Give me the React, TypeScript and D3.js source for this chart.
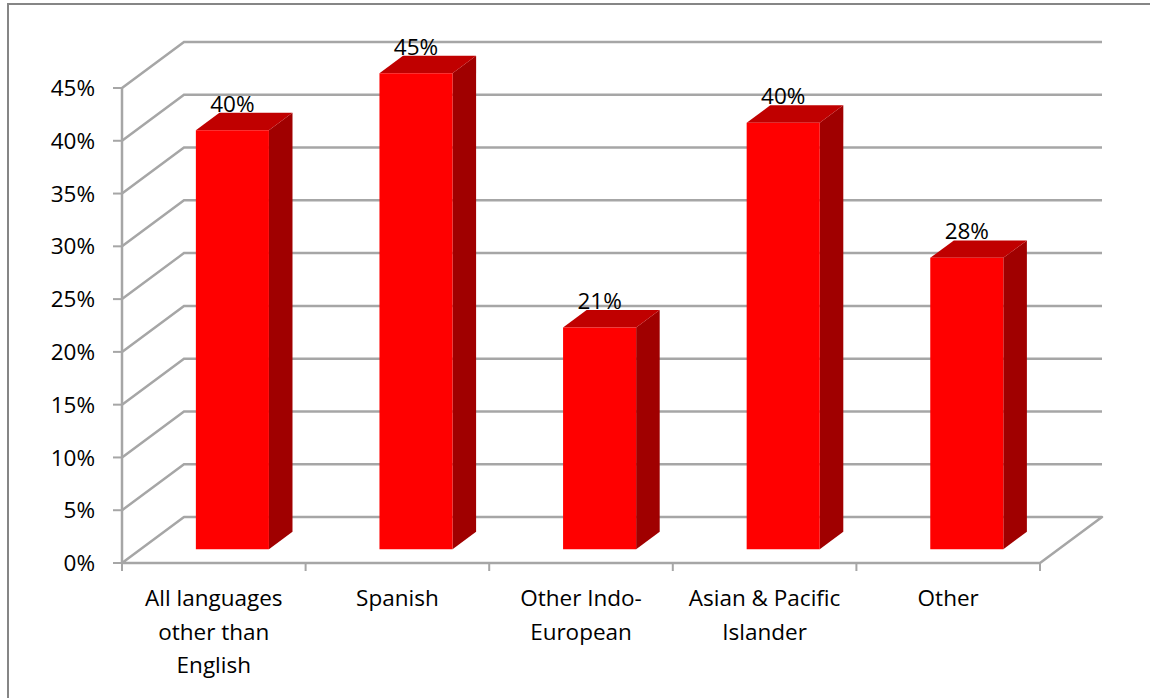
import React from "react";
import * as d3 from "d3";

const categories: string[][] = [
  ["All languages", "other than", "English"],
  ["Spanish"],
  ["Other Indo-", "European"],
  ["Asian & Pacific", "Islander"],
  ["Other"],
];
const values: number[] = [0.397, 0.451, 0.21, 0.404, 0.276];
const yTicks: number[] = [0, 0.05, 0.1, 0.15, 0.2, 0.25, 0.3, 0.35, 0.4, 0.45];

const W = 1150;
const H = 698;
const X0 = 122;
const X1 = 1040;
const Y0 = 563;
const Y1 = 88;
const DX = 62;
const DY = -46;
const BAR_D0 = 0.3;
const BAR_DEPTH = 0.38;
const FONT = "'Open Sans', sans-serif";
const FS = 22.5;
const GRID = "#a6a6a6";

export default function App() {
  const y = d3.scaleLinear().domain([0, 0.45]).range([Y0, Y1]);
  const x = d3
    .scaleBand<number>()
    .domain(categories.map((_, i) => i))
    .range([X0, X1]);
  const pct = d3.format(".0%");
  const p = (px: number, py: number, d: number): [number, number] => [px + DX * d, py + DY * d];
  const poly = (pts: [number, number][]) => pts.map((q) => q.join(",")).join(" ");
  const barW = x.bandwidth() * 0.398;

  return (
    <svg
      width={W}
      height={H}
      style={{ position: "absolute", left: 0, top: 0, background: "#fff" }}
    >
      <rect x={8} y={4} width={W + 20} height={H + 20} fill="#fff" stroke="#868686" strokeWidth={2} />
      {yTicks.map((t, i) => {
        const yy = y(t);
        const [bx, by] = p(X0, yy, 1);
        return (
          <g key={"g" + i}>
            {i > 0 && (
              <polyline
                points={poly([[X0, yy], [bx, by], [X1 + DX, by]])}
                fill="none"
                stroke={GRID}
                strokeWidth={2.5}
              />
            )}
            <line x1={X0 - 9} x2={X0} y1={yy} y2={yy} stroke={GRID} strokeWidth={2} />
            <text
              x={95}
              y={yy}
              dy="0.36em"
              textAnchor="end"
              fontFamily={FONT}
              fontSize={FS}
              fill="#000"
            >
              {pct(t)}
            </text>
          </g>
        );
      })}
      <polygon
        points={poly([[X0, Y0], [X1, Y0], p(X1, Y0, 1), p(X0, Y0, 1)])}
        fill="none"
        stroke={GRID}
        strokeWidth={2.5}
        strokeLinejoin="round"
      />
      <line x1={X0} x2={X0} y1={Y1} y2={Y0} stroke={GRID} strokeWidth={2.5} />
      {categories.map((_, i) => (
        <line key={"t" + i} x1={x(i)!} x2={x(i)!} y1={Y0} y2={Y0 + 8} stroke={GRID} strokeWidth={2} />
      ))}
      <line x1={X1} x2={X1} y1={Y0} y2={Y0 + 8} stroke={GRID} strokeWidth={2} />
      {values.map((v, i) => {
        const cx = x(i)! + x.bandwidth() / 2;
        const l = cx - barW / 2;
        const r = cx + barW / 2;
        const yb = y(0);
        const yt = y(v);
        const fl = p(l, yt, BAR_D0);
        const fr = p(r, yt, BAR_D0);
        const flb = p(l, yb, BAR_D0);
        const frb = p(r, yb, BAR_D0);
        const bl = p(l, yt, BAR_D0 + BAR_DEPTH);
        const br = p(r, yt, BAR_D0 + BAR_DEPTH);
        const brb = p(r, yb, BAR_D0 + BAR_DEPTH);
        const lab = p(cx, yt, BAR_D0 + BAR_DEPTH);
        return (
          <g key={"b" + i}>
            <polygon points={poly([fr, br, brb, frb])} fill="#a00000" />
            <polygon points={poly([fl, fr, br, bl])} fill="#c00000" />
            <polygon points={poly([fl, fr, frb, flb])} fill="#ff0000" />
            <text
              x={p(cx, 0, BAR_D0)[0]}
              y={lab[1] - 1}
              textAnchor="middle"
              fontFamily={FONT}
              fontSize={FS}
              fill="#000"
            >
              {pct(Math.round(v * 100) / 100)}
            </text>
          </g>
        );
      })}
      {categories.map((lines, i) => (
        <text
          key={"c" + i}
          x={x(i)! + x.bandwidth() / 2}
          y={606}
          textAnchor="middle"
          fontFamily={FONT}
          fontSize={FS}
          fill="#000"
        >
          {lines.map((ln, j) => (
            <tspan key={j} x={x(i)! + x.bandwidth() / 2} dy={j === 0 ? 0 : 33.5}>
              {ln}
            </tspan>
          ))}
        </text>
      ))}
    </svg>
  );
}
